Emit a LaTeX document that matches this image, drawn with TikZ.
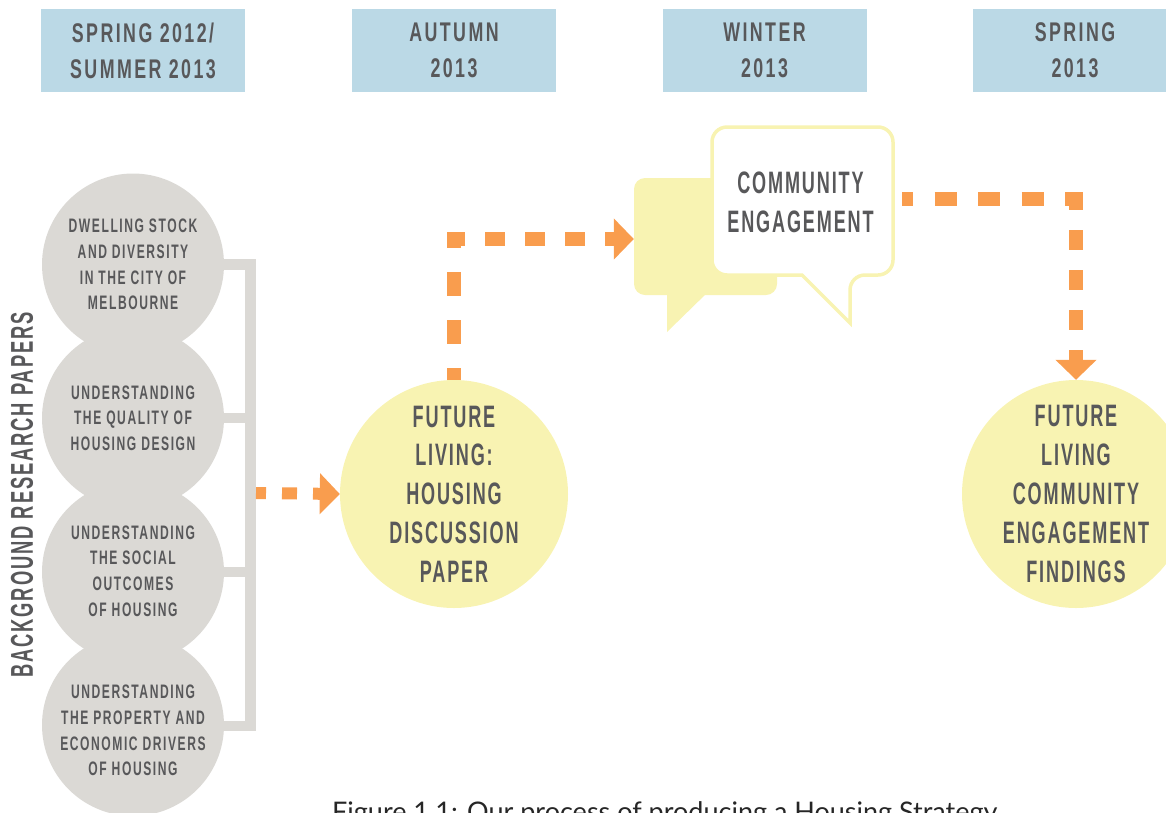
\documentclass[tikz,border=0pt]{standalone}
\usepackage{fontspec}
\usepackage{tikz}
\usetikzlibrary{arrows.meta}
\newfontfamily\stagefont[FakeStretch=0.66,LetterSpace=9]{Liberation Sans Bold}
\newfontfamily\paperfont[FakeStretch=0.62,LetterSpace=8]{Liberation Sans Bold}
\newfontfamily\headfont[FakeStretch=0.583,LetterSpace=6]{Liberation Sans Bold}
\newfontfamily\captionfont{Lato}
\definecolor{stageblue}{HTML}{BBD9E6}
\definecolor{papergrey}{HTML}{DBD9D5}
\definecolor{findyellow}{HTML}{F8F3B2}
\definecolor{flowgrange}{HTML}{F99D4E}
\definecolor{inkgrey}{HTML}{58585A}
\tikzset{
	stage/.style={fill=stageblue, minimum width=204pt, minimum height=83pt, inner sep=0pt, align=center, text=inkgrey, font=\stagefont\fontsize{27}{36}\selectfont},
	paper/.style={circle, fill=papergrey, minimum size=182pt, inner sep=-10pt, align=center, text=inkgrey, font=\paperfont\fontsize{19.5}{25.7}\selectfont},
	bigdisc/.style={circle, fill=findyellow, minimum size=228pt, inner sep=-20pt, align=center, text=inkgrey, font=\headfont\fontsize{31}{38.8}\selectfont},
	bracket/.style={draw=papergrey, line width=10.5pt},
	flow/.style={draw=flowgrange, line width=14pt},
	flowhead/.style={flow, -{Triangle[width=40pt,length=20pt]}},
}
\begin{document}
\begin{tikzpicture}[x=1pt,y=-1pt]
	\path[use as bounding box, clip] (0,0) rectangle (1166,812);

	% Stages along the top
	\node [stage] (stageA) at (143,50.5) {SPRING 2012/\\SUMMER 2013};
	\node [stage] (stageB) at (454,50.5) {AUTUMN\\2013};
	\node [stage] (stageC) at (764.5,50.5) {WINTER\\2013};
	\node [stage] (stageD) at (1075,50.5) {SPRING\\2013};

	% Bracket behind the research papers
	\coordinate (brackBot) at (250.5,726);
	\coordinate (brackOut) at (256,493);

	% Research papers
	\node [paper] (paperA) at (133,264.5) {DWELLING STOCK\\AND DIVERSITY\\IN THE CITY OF\\MELBOURNE};
	\node [paper] (paperB) at (133,418) {UNDERSTANDING\\THE QUALITY OF\\HOUSING DESIGN};
	\node [paper] (paperC) at (133,572) {};
	\node [paper] (paperD) at (133,725) {};
	\node [align=center, inner sep=0pt, text=inkgrey, font=\paperfont\fontsize{19.5}{25.7}\selectfont] (paperCtext) at (133,571) {UNDERSTANDING\\THE SOCIAL\\OUTCOMES\\OF HOUSING};
	\node [align=center, inner sep=0pt, text=inkgrey, font=\paperfont\fontsize{19.5}{25.7}\selectfont] (paperDtext) at (133,730.5) {UNDERSTANDING\\THE PROPERTY AND\\ECONOMIC DRIVERS\\OF HOUSING};
	\draw [bracket] (paperA.east) -| (brackBot) -- (paperD.east |- brackBot);
	\draw [bracket] (paperB.east) -- (paperB.east -| brackBot);
	\draw [bracket] (paperC.east) -- (paperC.east -| brackBot);
	\node [rotate=90, text=inkgrey, font=\headfont\fontsize{31.5}{36}\selectfont] (papersLabel) at (22,495) {BACKGROUND RESEARCH PAPERS};

	% Discussion paper and findings
	\node [bigdisc] (future) at (454,494) {FUTURE\\LIVING:\\HOUSING\\DISCUSSION\\PAPER};
	\node [bigdisc] (findings) at (1076,494) {FUTURE\\LIVING\\COMMUNITY\\ENGAGEMENT\\FINDINGS};

	% Speech bubbles
	\node [fill=findyellow, rounded corners=11pt, minimum width=143pt, minimum height=117pt, inner sep=0pt] (chatBack) at (705.5,236.5) {};
	\fill [findyellow] (667,290) -- (667,332) -- (710,290) -- cycle;
	\draw [draw=findyellow, fill=white, line width=3.5pt, rounded corners=15pt] (712,127) -- (893,127) -- (893,275) -- (850,275) [sharp corners] -- (850,323) -- (802,275) [rounded corners=15pt] -- (712,275) -- cycle;
	\node [align=center, inner sep=0pt, text=inkgrey, font=\headfont\fontsize{31}{39}\selectfont] (engage) at (800.5,202) {COMMUNITY\\ENGAGEMENT};
	\coordinate (engageOut) at (902,199);
	\coordinate (upCorner) at (454,239);
	\coordinate (overCorner) at (1076,199);

	% Flow between stages
	\draw [flowhead, line width=12pt, dash pattern=on 15pt off 16pt, dash phase=5pt] (brackOut) -- (future.west);
	\draw [flow, dash pattern=on 24pt off 24pt, dash phase=12pt] (future.north) -- (upCorner);
	\draw [flowhead, dash pattern=on 20pt off 20pt, dash phase=2pt] ([xshift=-7pt]upCorner) -- (chatBack.west |- upCorner);
	\draw [flow, dash pattern=on 22pt off 21.5pt, dash phase=11pt] (engageOut) -- ([xshift=7pt]overCorner);
	\draw [flowhead, dash pattern=on 20pt off 20pt, dash phase=9pt] (overCorner) -- (findings.north);

	% Caption
	\node [anchor=base west, inner sep=0pt, text=black!85, font=\captionfont\fontsize{27}{30}\selectfont] (figCaption) at (332,821) {Figure 1.1: Our process of producing a Housing Strategy};
\end{tikzpicture}
\end{document}
